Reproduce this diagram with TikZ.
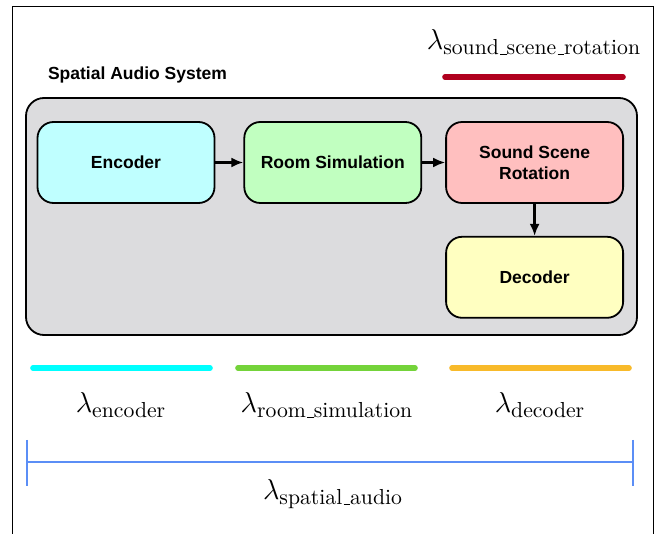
\documentclass[tikz,border=0pt]{standalone}
\usepackage{fontspec}
\usepackage{amsmath}
\newfontfamily\blockfont{Liberation Sans}
\usetikzlibrary{positioning,arrows.meta}

\definecolor{sysgray}{HTML}{DCDCDE}
\definecolor{encfill}{HTML}{BFFFFF}
\definecolor{roomfill}{HTML}{C1FFC0}
\definecolor{rotfill}{HTML}{FFBFBF}
\definecolor{decfill}{HTML}{FFFFC1}
\definecolor{encline}{HTML}{00FFFF}
\definecolor{roomline}{HTML}{74D33A}
\definecolor{decline}{HTML}{F8BA2A}
\definecolor{rotline}{HTML}{B0001E}
\definecolor{sysline}{HTML}{5B8EF6}

% short low underscore, as in the old text fonts
\newcommand{\lowbar}{\leavevmode\kern.06em\vbox{\hrule width.3em}}

\begin{document}
\begin{tikzpicture} [
      x=0.5pt, y=-0.5pt,
      block/.style={draw, line width=0.9pt, rectangle, rounded corners=8pt, minimum width=88.5pt, minimum height=40.5pt, align=center, font=\blockfont\fontsize{8.75}{10.5}\selectfont\bfseries},
      flow/.style={-{Latex[length=6pt, width=5pt]}, line width=1.3pt},
      bar/.style={line width=2.8pt, line cap=round},
      lambda/.style={font=\fontsize{15.5}{18}\selectfont}
   ]
    \useasboundingbox (0, 0) rectangle (665, 534);
    \draw[line width=0.5pt] (12, 534) -- (12, 7) -- (653, 7) -- (653, 534);

    \draw[fill=sysgray, line width=0.9pt, rounded corners=9pt] (26, 98) rectangle (637, 335);
    \node[anchor=west, font=\blockfont\fontsize{8.75}{10.5}\selectfont\bfseries] (ndTitle) at (41, 75) {Spatial Audio System};

    \node[block, fill=encfill] (ndEncoder) at (126, 162.5) {Encoder};
    \node[block, fill=roomfill, right=14pt of ndEncoder] (ndRoom) {Room Simulation};
    \node[block, fill=rotfill, right=11.5pt of ndRoom] (ndRotation) {Sound Scene\\Rotation};
    \node[block, fill=decfill, below=16pt of ndRotation] (ndDecoder) {Decoder};

    \draw[flow] (ndEncoder) -- (ndRoom);
    \draw[flow] (ndRoom) -- (ndRotation);
    \draw[flow] (ndRotation) -- (ndDecoder);

    \draw[bar, rotline] (445, 77) -- (623, 77);
    \node[lambda] (lbRotation) at (534, 42) {$\lambda_{\text{sound\lowbar scene\lowbar rotation}}$};

    \draw[bar, encline] (33, 368) -- (210, 368);
    \draw[bar, roomline] (238, 368) -- (415, 368);
    \draw[bar, decline] (452, 368) -- (629, 368);
    \node[lambda] (lbEncoder) at (121, 405) {$\lambda_{\text{encoder}}$};
    \node[lambda] (lbRoom) at (327, 405) {$\lambda_{\text{room\lowbar simulation}}$};
    \node[lambda] (lbDecoder) at (540, 405) {$\lambda_{\text{decoder}}$};

    \draw[sysline, line width=1pt] (27, 440) -- (27, 486);
    \draw[sysline, line width=1pt] (633, 440) -- (633, 486);
    \draw[sysline, line width=1pt] (27, 462) -- (633, 462);
    \node[lambda] (lbSystem) at (333, 494) {$\lambda_{\text{spatial\lowbar audio}}$};

  \end{tikzpicture}
\end{document}
